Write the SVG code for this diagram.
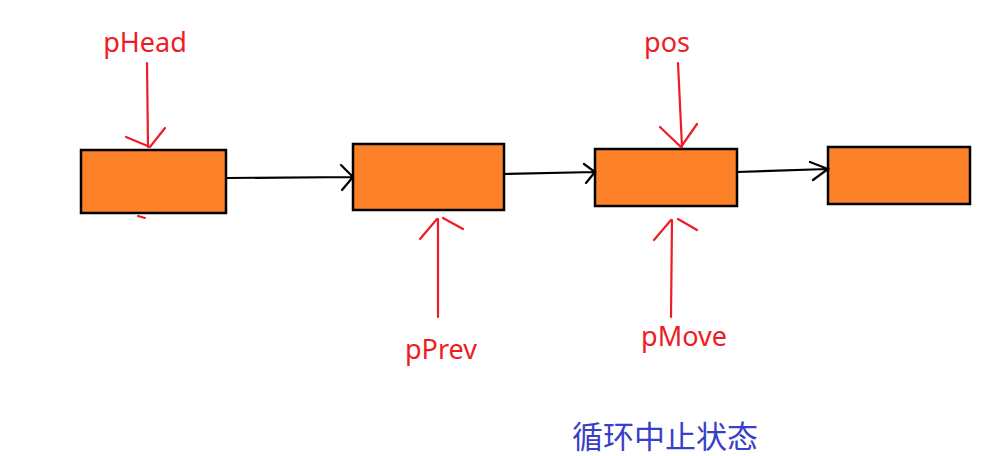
<svg xmlns="http://www.w3.org/2000/svg" width="993" height="456" viewBox="0 0 993 456">
<style>
.node{fill:#FD8128;stroke:#000;stroke-width:2.5}
.link{fill:none;stroke:#000;stroke-width:2.2;stroke-linecap:round}
.ptr{fill:none;stroke:#EE1C25;stroke-width:2.2;stroke-linecap:round}
.lbl{font-family:"Noto Sans","Open Sans",sans-serif;font-size:27px;fill:#EE1C25;text-anchor:middle}
.cap{font-family:"Noto Sans CJK SC",sans-serif;font-size:31px;fill:#3A3FC8}
</style>
<rect width="993" height="456" fill="#fff"/>
<g id="node1"><rect class="node" x="81" y="150" width="145" height="63"/></g>
<g id="node2"><rect class="node" x="353" y="144" width="151" height="66"/></g>
<g id="node3"><rect class="node" x="595" y="149" width="142" height="57"/></g>
<g id="node4"><rect class="node" x="828" y="147" width="142" height="57"/></g>
<g id="connectors">
<path class="link" d="M226 178 L353 177 M341 165 L353 177 L342 190"/>
<path class="link" d="M504 174 L595 172 M584 164 L595 172 L586 183"/>
<path class="link" d="M737 172 L828 169 M810 162 L828 169 L813 180"/>
</g>
<g id="pHead">
<text class="lbl" x="145" y="52">pHead</text>
<path class="ptr" d="M147 63 L148 147 M126 137 L150 147 L165 128"/>
<path class="ptr" d="M138 216 L145 218"/>
</g>
<g id="pos">
<text class="lbl" x="667" y="52">pos</text>
<path class="ptr" d="M678 63 L682 147 M660 127 L681 147 L697 124"/>
</g>
<g id="pPrev">
<text class="lbl" x="441" y="359">pPrev</text>
<path class="ptr" d="M438 317 L438 219 M420 239 L437 219 M443 218 L463 229"/>
</g>
<g id="pMove">
<text class="lbl" x="684" y="346">pMove</text>
<path class="ptr" d="M671 317 L672 220 M654 240 L671 220 M678 219 L697 230"/>
</g>
<text class="cap" x="572" y="448">循环中止状态</text>
</svg>
